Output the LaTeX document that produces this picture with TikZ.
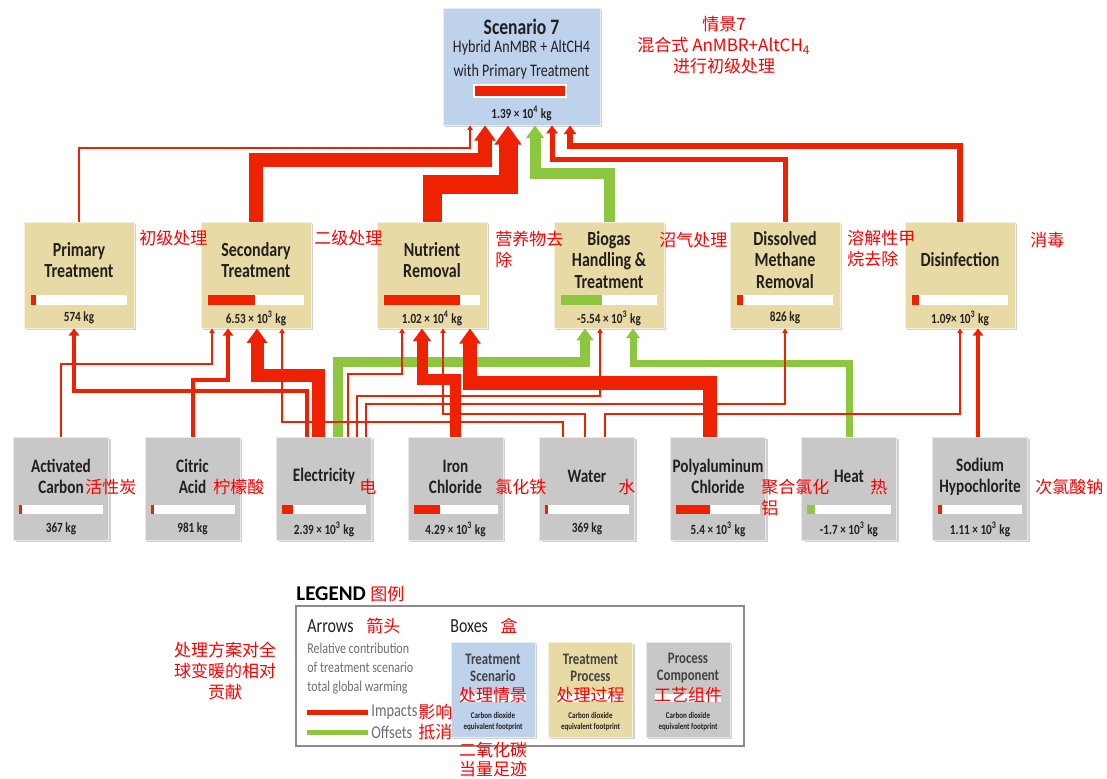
\documentclass[tikz,border=0pt]{standalone}
\usepackage{fontspec}
\setmainfont{Carlito}
\newfontfamily\cond[FakeStretch=0.8]{Carlito}
\newfontfamily\cjk{Noto Sans CJK SC}
\usetikzlibrary{arrows.meta,shadows,calc}
\definecolor{impact}{RGB}{238, 34, 0}
\definecolor{offset}{RGB}{141, 198, 63}
\definecolor{scenfill}{RGB}{190, 210, 236}
\definecolor{procfill}{RGB}{232, 218, 164}
\definecolor{compfill}{RGB}{200, 200, 200}
\definecolor{ink}{RGB}{35, 31, 32}
\definecolor{notered}{RGB}{255, 0, 0}
\definecolor{legendgrey}{RGB}{110, 110, 110}

\begin{document}
\begin{tikzpicture}[
  x=0.5pt, y=-0.5pt,
  boxshadow/.style={drop shadow={shadow xshift=1pt, shadow yshift=-1pt, fill=black!18, opacity=1}},
  scenbox/.style={fill=scenfill, draw=white!60!scenfill, inner sep=0pt,
    minimum width=78.5pt, minimum height=58.5pt, boxshadow},
  procbox/.style={fill=procfill, draw=white!60!procfill, inner sep=0pt,
    minimum width=55pt, minimum height=53pt, boxshadow},
  compbox/.style={fill=compfill, draw=white!60!compfill, inner sep=0pt,
    minimum width=47.5pt, minimum height=51.5pt, boxshadow},
  ttl/.style={font=\cond\bfseries\fontsize{10}{10.6}\selectfont, text=ink, align=center, inner sep=0pt},
  cttl/.style={font=\cond\bfseries\fontsize{9.5}{10.5}\selectfont, text=ink, align=center, inner sep=0pt},
  val/.style={font=\cond\bfseries\fontsize{7}{7.5}\selectfont, text=ink, inner sep=0pt},
  note/.style={font=\cjk\fontsize{8.5}{10.5}\selectfont, text=notered, inner sep=0pt, align=left},
  lgtext/.style={font=\cond\fontsize{7.5}{9.5}\selectfont, text=legendgrey, inner sep=0pt, align=left},
  imp/.style={draw=impact, line width=#1, -{Triangle[length=2pt 0.8, width=3pt 1.05]}},
  off/.style={draw=offset, line width=#1, -{Triangle[length=2pt 0.8, width=3pt 1.05]}},
  fine/.style={draw=impact, line width=0.6pt, -{Triangle[length=2.2pt, width=2.6pt]}}
]
\useasboundingbox (0,0) rectangle (1107,778);

% Scenario
\node[scenbox] (scen) at (521.5,66.5) {};
\node[font=\cond\bfseries\fontsize{11}{12}\selectfont, text=ink, inner sep=0pt] (scen-t) at (521.5,27) {Scenario 7};
\node[font=\cond\fontsize{8.8}{12}\selectfont, text=ink, align=center, inner sep=0pt] (scen-s) at (521.5,60) {Hybrid AnMBR + AltCH4\\with Primary Treatment};
\fill[white] (473,84) rectangle (567,98);
\fill[impact] (475,86) rectangle (565,96);
\node[val] (scen-v) at (521.5,113) {1.39 × 10\textsuperscript{4} kg};
\node[note, align=center] (scen-n) at (724,45) {情景7\\混合式 AnMBR+AltCH\textsubscript{4}\\进行初级处理};

% Treatment processes
\foreach \nm/\x/\ttl/\fr/\fc/\val in {
  prim/79/{Primary\\Treatment}/0.05/impact/{574 kg},
  sec/256/{Secondary\\Treatment}/0.49/impact/{6.53 × 10\textsuperscript{3} kg},
  nutr/432/{Nutrient\\Removal}/0.79/impact/{1.02 × 10\textsuperscript{4} kg},
  biog/609/{Biogas\\Handling \&\\Treatment}/0.43/offset/{-5.54 × 10\textsuperscript{3} kg},
  dism/785/{Dissolved\\Methane\\Removal}/0.065/impact/{826 kg},
  disi/960/{Disinfection}/0.07/impact/{1.09× 10\textsuperscript{3} kg}}{
  \node[procbox] (\nm) at (\x,275) {};
  \node[ttl] (\nm-t) at (\x,260) {\ttl};
  \fill[white] ({\x-48},295) rectangle ({\x+48},305);
  \fill[\fc] ({\x-48},295) rectangle ({\x-48+96*\fr},305);
  \node[val] (\nm-v) at (\x,318) {\val};
}

% Process components
\foreach \nm/\x/\ttl/\fr/\fc/\val in {
  actc/61/{Activated\\Carbon}/0.04/impact/{367 kg},
  citr/192.5/{Citric\\Acid}/0.04/impact/{981 kg},
  elec/324/{Electricity}/0.13/impact/{2.39 × 10\textsuperscript{3} kg},
  iron/455.5/{Iron\\Chloride}/0.31/impact/{4.29 × 10\textsuperscript{3} kg},
  watr/587/{Water}/0.035/impact/{369 kg},
  pac/718/{Polyaluminum\\Chloride}/0.40/impact/{5.4 × 10\textsuperscript{3} kg},
  heat/849/{Heat}/0.10/offset/{-1.7 × 10\textsuperscript{3} kg},
  naocl/980/{Sodium\\Hypochlorite}/0.05/impact/{1.11 × 10\textsuperscript{3} kg}}{
  \node[compbox] (\nm) at (\x,488.5) {};
  \node[cttl] (\nm-t) at (\x,476.5) {\ttl};
  \fill[white] ({\x-42},505) rectangle ({\x+42},514);
  \fill[\fc] ({\x-42},505) rectangle ({\x-42+84*\fr},514);
  \node[val] (\nm-v) at (\x,529) {\val};
}

% Processes -> scenario
\draw[fine] (prim.north) |- (470,148) -- (scen.south -| 470,0);
\draw[imp=7pt] (sec.north) |- (485,160) -- (scen.south -| 485,0);
\draw[imp=9.5pt] (nutr.north) |- (508,184) -- (scen.south -| 508,0);
\draw[off=5.5pt] (biog.north) |- (535,173) -- (scen.south -| 535,0);
\draw[imp=2.5pt] (dism.north) |- (552,159) -- (scen.south -| 552,0);
\draw[imp=3pt] (disi.north) |- (570,146) -- (scen.south -| 570,0);

% Components -> processes
\draw[off=5pt] (elec.north -| 338,0) |- (585,362) -- (biog.south -| 585,0);
\draw[off=3.5pt] (heat.north) |- (633,363) -- (biog.south -| 633,0);
\draw[fine] (actc.north) |- (212,364) -- (sec.south -| 212,0);
\draw[imp=2pt] (citr.north) |- (228,380) -- (sec.south -| 228,0);
\draw[imp=2pt] (elec.north -| 307,0) |- (74,391) -- (prim.south -| 74,0);
\draw[imp=6.5pt] (elec.north -| 318,0) |- (257,375) -- (sec.south -| 257,0);
\draw[fine] (elec.north -| 348,0) |- (402,374) -- (nutr.south -| 402,0);
\draw[fine] (elec.north -| 357,0) |- (600,396) -- (biog.south -| 600,0);
\draw[fine] (elec.north -| 366,0) |- (dism.south |- 0,404) -- (dism.south);
\draw[imp=5.5pt] (iron.north) |- (422,379) -- (nutr.south -| 422,0);
\draw[imp=7pt] (pac.north -| 710,0) |- (470,383) -- (nutr.south -| 470,0);
\draw[fine] (watr.north -| 563,0) |- (282,422) -- (sec.south -| 282,0);
\draw[fine] (watr.north -| 585,0) |- (443,414) -- (nutr.south -| 443,0);
\draw[fine] (watr.north -| 605,0) |- (disi.south |- 0,414) -- (disi.south);
\draw[imp=2pt] (naocl.north -| 978,0) -- (disi.south -| 978,0);

% Notes
\node[note, anchor=west] (prim-n) at (139,238) {初级处理};
\node[note, anchor=west] (sec-n) at (314,238) {二级处理};
\node[note, anchor=west] (nutr-n) at (495,249) {营养物去\\除};
\node[note, anchor=west] (biog-n) at (659,240) {沼气处理};
\node[note, anchor=west] (dism-n) at (847,249) {溶解性甲\\烷去除};
\node[note, anchor=west] (disi-n) at (1030,240) {消毒};
\node[note, anchor=west] (actc-n) at (85,487) {活性炭};
\node[note, anchor=west] (citr-n) at (213,487) {柠檬酸};
\node[note, anchor=west] (elec-n) at (359,487) {电};
\node[note, anchor=west] (iron-n) at (495,487) {氯化铁};
\node[note, anchor=west] (watr-n) at (618,487) {水};
\node[note, anchor=west] (pac-n) at (761,497) {聚合氯化\\铝};
\node[note, anchor=west] (heat-n) at (870,487) {热};
\node[note, anchor=west] (naocl-n) at (1035,487) {次氯酸钠};

% Legend
\node[font=\bfseries\fontsize{10.5}{12}\selectfont, text=black, anchor=west, inner sep=0pt] (lg) at (296,594) {LEGEND};
\node[note, anchor=west] (lg-n) at (370,594) {图例};
\node[draw=black!45, line width=0.8pt, minimum width=224pt, minimum height=70pt, inner sep=0pt] (lbox) at (520,676) {};
\node[font=\cond\fontsize{10}{12}\selectfont, text=ink, anchor=west, inner sep=0pt] (lg-a) at (307,626) {Arrows};
\node[note, anchor=west] (lg-an) at (366,626) {箭头};
\node[font=\cond\fontsize{10}{12}\selectfont, text=ink, anchor=west, inner sep=0pt] (lg-b) at (450,626) {Boxes};
\node[note, anchor=west] (lg-bn) at (500,626) {盒};
\node[lgtext, anchor=west] (lg-r) at (307,669) {Relative contribution\\of treatment scenario\\total global warming};
\node[note, align=center] (lg-rn) at (225,671) {处理方案对全\\球变暖的相对\\贡献};
\coordinate (li0) at (307,712);
\coordinate (li1) at (368,712);
\coordinate (lo0) at (307,732);
\coordinate (lo1) at (368,732);
\draw[impact, line width=2.5pt] (li0) -- (li1);
\draw[offset, line width=2.5pt] (lo0) -- (lo1);
\node[font=\cond\fontsize{9}{10}\selectfont, text=legendgrey, anchor=west, inner sep=0pt] (lg-i) at (371,712) {Impacts};
\node[font=\cond\fontsize{9}{10}\selectfont, text=legendgrey, anchor=west, inner sep=0pt] (lg-o) at (371,732) {Offsets};
\node[note, anchor=west] (lg-in) at (418,712) {影响};
\node[note, anchor=west] (lg-on) at (418,732) {抵消};

\foreach \nm/\x/\sty/\ttl/\cn in {
  lscen/493/scenbox/{Treatment\\Scenario}/处理情景,
  lproc/590.5/procbox/{Treatment\\Process}/处理过程,
  lcomp/688/compbox/{Process\\Component}/工艺组件}{
  \node[\sty, minimum width=42pt, minimum height=47.5pt] (\nm) at (\x,689.5) {};
  \node[font=\cond\bfseries\fontsize{8}{8.5}\selectfont, text=ink!85, align=center, inner sep=0pt] (\nm-t) at (\x,668) {\ttl};
  \fill[white] ({\x-33},694) rectangle ({\x+33},702);
  \node[font=\cond\bfseries\fontsize{4.4}{5.5}\selectfont, text=ink, align=center, inner sep=0pt] (\nm-c) at (\x,721.5) {Carbon dioxide\\equivalent footprint};
  \node[note] (\nm-n) at (\x,695) {\cn};
}
\node[note, align=center, font=\cjk\fontsize{8.5}{9.5}\selectfont] (lg-cn) at (493,759.5) {二氧化碳\\当量足迹};

\end{tikzpicture}
\end{document}
